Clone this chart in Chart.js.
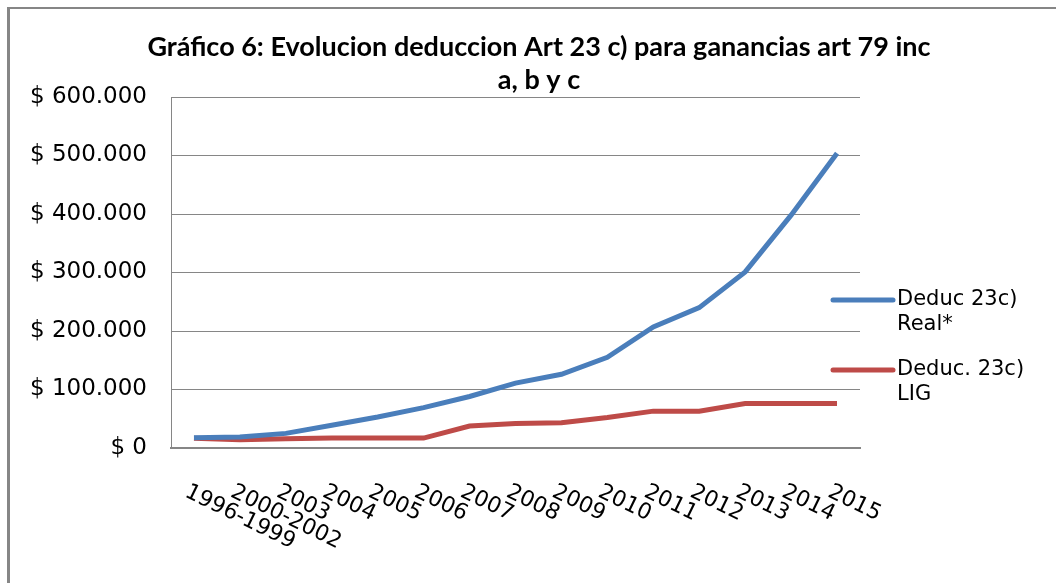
<!DOCTYPE html>
<html>
<head>
<meta charset="utf-8">
<script src="https://cdn.jsdelivr.net/npm/chart.js@4.4.0/dist/chart.umd.min.js"></script>
<style>
    html, body { margin: 0; padding: 0; background: #fff; overflow: hidden; }
    #frame {
        position: absolute; left: 7px; top: 7px;
        width: 1060px; height: 574px;
        border-left: 3px solid #868686; border-top: 2px solid #868686;
    }
</style>
</head>
<body>
<div id="frame"><canvas id="deduccionChart" width="1060" height="574"></canvas></div>
<script>
// Data
const categories = ['1996-1999', '2000-2002', '2003', '2004', '2005', '2006', '2007', '2008',
    '2009', '2010', '2011', '2012', '2013', '2014', '2015'];
const realValues = [17600, 19000, 25000, 39000, 53000, 69000, 88000, 111000,
    126000, 155000, 207000, 240000, 301000, 398000, 504000];
const ligValues = [16500, 14000, 16000, 17000, 17000, 17000, 37500, 42000,
    43000, 52000, 63000, 63000, 76000, 76000, 76000];
const seriesLabels = [['Deduc 23c)', 'Real*'], ['Deduc. 23c)', 'LIG']];
const titleLines = ['Gráfico 6: Evolucion deduccion Art 23 c) para ganancias art 79 inc', 'a, b y c'];

const BLUE = '#4A7EBB';
const RED = '#BE4B48';
const GRID = '#868686';
const FONT = "'DejaVu Sans', Verdana, sans-serif";

function formatPeso(v) {
    return '$ ' + String(v).replace(/\B(?=(\d{3})+(?!\d))/g, '.');
}

// title centred on the whole chart box, not on the plot
const chartTitle = {
    id: 'chartTitle',
    afterDraw(chart) {
        const ctx = chart.ctx;
        ctx.save();
        ctx.font = "bold 27px Lato, 'Open Sans', sans-serif";
        ctx.fillStyle = '#000';
        ctx.textAlign = 'center';
        ctx.textBaseline = 'middle';
        titleLines.forEach((line, i) => ctx.fillText(line, 529, 38 + i * 33));
        ctx.restore();
    }
};

// rotated category labels (text running down to the right)
const slantedLabels = {
    id: 'slantedLabels',
    afterDraw(chart) {
        const ctx = chart.ctx;
        const xs = chart.scales.x;
        ctx.save();
        ctx.font = '22px ' + FONT;
        ctx.fillStyle = '#000';
        ctx.textAlign = 'left';
        ctx.textBaseline = 'top';
        categories.forEach((label, i) => {
            const x = xs.getPixelForTick(i);
            ctx.save();
            ctx.translate(x - 3, xs.top + 33);
            ctx.rotate(26 * Math.PI / 180);
            ctx.fillText(label, 0, 0);
            ctx.restore();
        });
        ctx.restore();
    }
};

// legend on the right, two lines per entry
const sideLegend = {
    id: 'sideLegend',
    afterDraw(chart) {
        const ctx = chart.ctx;
        const area = chart.chartArea;
        ctx.save();
        ctx.font = '21px ' + FONT;
        ctx.textAlign = 'left';
        ctx.textBaseline = 'middle';
        chart.data.datasets.forEach((ds, i) => {
            const y = area.top + 203 + i * 70;
            ctx.strokeStyle = ds.borderColor;
            ctx.lineWidth = 5;
            ctx.lineCap = 'round';
            ctx.beginPath();
            ctx.moveTo(area.right - 27, y);
            ctx.lineTo(area.right + 33, y);
            ctx.stroke();
            ctx.fillStyle = '#000';
            seriesLabels[i].forEach((line, j) => {
                ctx.fillText(line, area.right + 37, y + j * 25);
            });
        });
        ctx.restore();
    }
};

const ctx = document.getElementById('deduccionChart').getContext('2d');
new Chart(ctx, {
    type: 'line',
    data: {
        labels: categories,
        datasets: [{
            label: seriesLabels[0].join(' '),
            data: realValues,
            borderColor: BLUE,
            borderWidth: 5,
            pointRadius: 0,
            tension: 0
        }, {
            label: seriesLabels[1].join(' '),
            data: ligValues,
            borderColor: RED,
            borderWidth: 5,
            pointRadius: 0,
            tension: 0
        }]
    },
    options: {
        responsive: false,
        animation: false,
        layout: { padding: { left: 17, right: 210, top: 88, bottom: 135 } },
        plugins: {
            legend: { display: false },
            tooltip: { enabled: false },
            title: { display: false }
        },
        scales: {
            x: {
                offset: true,
                grid: { display: false, drawTicks: false },
                border: { color: GRID, width: 2 },
                ticks: { display: false }
            },
            y: {
                min: 0,
                max: 600000,
                afterFit(scale) { scale.width = 144; },
                grid: { color: GRID, lineWidth: 1, drawTicks: false },
                border: { color: GRID, width: 1 },
                ticks: {
                    stepSize: 100000,
                    padding: 24,
                    color: '#000',
                    font: { family: FONT, size: 23 },
                    callback: v => formatPeso(v)
                }
            }
        }
    },
    plugins: [chartTitle, slantedLabels, sideLegend]
});
</script>
</body>
</html>
